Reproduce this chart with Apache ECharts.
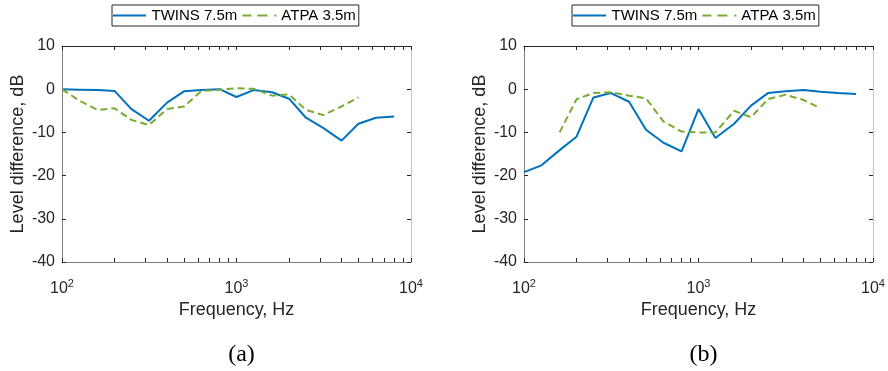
<!DOCTYPE html>
<html><head><meta charset="utf-8">
<script src="https://cdn.jsdelivr.net/npm/echarts@6/dist/echarts.min.js"></script>
<style>html,body{margin:0;padding:0;background:#fff}#c{width:888px;height:371px}</style>
</head><body><div id="c"></div>
<script>
var freqs = [100,125,160,200,250,315,400,500,630,800,1000,1250,1600,2000,2500,3150,4000,5000,6300,8000];
var twinsA = [0,-0.1,-0.2,-0.4,-4.6,-7.3,-3.1,-0.5,-0.2,0,-1.8,-0.2,-0.7,-2.2,-6.6,-9.0,-11.9,-8.0,-6.6,-6.3];
var atpaA = [0,-2.6,-4.8,-4.4,-7.1,-8.3,-4.6,-4.0,-0.4,-0.1,0.2,0.1,-1.5,-1.2,-4.8,-6.0,-4.0,-1.9,null,null];
var twinsB = [-19.2,-17.7,-14.1,-11.0,-1.9,-0.9,-2.9,-9.4,-12.4,-14.4,-4.6,-11.3,-8.0,-3.8,-0.9,-0.5,-0.2,-0.6,-0.9,-1.1];
var atpaB = [null,null,-10.0,-2.3,-0.9,-0.7,-1.5,-2.1,-7.5,-9.8,-10.0,-10.0,-5.0,-6.5,-2.3,-1.3,-2.5,-4.4,null,null];
var decadeTicks = [100,1000,10000];
var minorTicks = [200,300,400,500,600,700,800,900,2000,3000,4000,5000,6000,7000,8000,9000];
var seriesNames = ['TWINS 7.5m','ATPA 3.5m'];
var panelLabels = ['(a)','(b)'];

var FONT = 'Liberation Sans, Arial, sans-serif';
var TXT = '#262626';
function pairs(v){ return freqs.map(function(f,i){ return [f, v[i] === null ? '-' : v[i]]; }); }

var grids = [
  {left:62, top:46, width:349, height:216},
  {left:524, top:46, width:349, height:216}
];
var legendIcons = ['path://M0,0h33v2h-33z', 'path://M0,0h9v2h-9zM15,0h10v2h-10zM32,0h2v2h-2z'];
var xAxes = [], yAxes = [], series = [], legends = [], titles = [];
grids.forEach(function(g, gi){
  var xi = xAxes.length;
  xAxes.push({
    type:'log', logBase:10, min:100, max:10000, gridIndex:gi, position:'bottom',
    name:'Frequency, Hz', nameLocation:'middle', nameGap:39,
    nameTextStyle:{fontFamily:FONT, fontSize:18, color:TXT},
    axisLine:{show:true, onZero:false, lineStyle:{color:'#808080', width:1}},
    axisTick:{show:true, inside:true, length:4, customValues:decadeTicks.concat(minorTicks), lineStyle:{color:TXT, width:1}},
    axisLabel:{customValues:decadeTicks, margin:16, color:TXT, fontFamily:FONT,
      formatter:function(v){ return '{b|10}{s|' + Math.round(Math.log10(v)) + '}'; },
      rich:{b:{fontSize:16, fontFamily:FONT, color:TXT}, s:{fontSize:11, fontFamily:FONT, color:TXT, padding:[0,0,10,0]}}},
    splitLine:{show:false}
  });
  xAxes.push({
    type:'log', logBase:10, min:100, max:10000, gridIndex:gi, position:'top',
    axisLine:{show:true, onZero:false, lineStyle:{color:TXT, width:1}},
    axisTick:{show:true, inside:true, length:4, customValues:decadeTicks.concat(minorTicks), lineStyle:{color:TXT, width:1}},
    axisLabel:{show:false}, splitLine:{show:false}
  });
  var yi = yAxes.length;
  yAxes.push({
    type:'value', min:-40, max:10, interval:10, gridIndex:gi, position:'left',
    name:'Level difference, dB', nameLocation:'middle', nameGap:35, nameRotate:90,
    nameTextStyle:{fontFamily:FONT, fontSize:18, color:TXT},
    axisLine:{show:true, onZero:false, lineStyle:{color:'#808080', width:1}},
    axisTick:{show:true, inside:true, length:4, lineStyle:{color:TXT, width:1}},
    axisLabel:{fontFamily:FONT, fontSize:16, color:TXT, margin:7},
    splitLine:{show:false}
  });
  yAxes.push({
    type:'value', min:-40, max:10, interval:10, gridIndex:gi, position:'right',
    axisLine:{show:true, onZero:false, lineStyle:{color:'#c4c4c4', width:1}},
    axisTick:{show:true, inside:true, length:4, lineStyle:{color:TXT, width:1}},
    axisLabel:{show:false}, splitLine:{show:false}
  });
  var tw = gi === 0 ? twinsA : twinsB;
  var at = gi === 0 ? atpaA : atpaB;
  series.push({
    name:seriesNames[0], type:'line', xAxisIndex:xi, yAxisIndex:yi, data:pairs(tw),
    symbol:'none', showSymbol:false, lineStyle:{color:'#0072BD', width:2}, itemStyle:{color:'#0072BD'}
  });
  series.push({
    name:seriesNames[1], type:'line', xAxisIndex:xi, yAxisIndex:yi, data:pairs(at),
    symbol:'none', showSymbol:false, lineStyle:{color:'#77AC30', width:2, type:[7,4]}, itemStyle:{color:'#77AC30'}
  });
  legends.push({
    left: gi === 0 ? 112 : 572, top:5, orient:'horizontal',
    data:seriesNames.map(function(n,k){ return {name:n, icon:legendIcons[k]}; }),
    backgroundColor:'#fff', borderColor:'#262626', borderWidth:1,
    padding:[3,3,3,1], itemWidth:34, itemHeight:2, itemGap:5,
    textStyle:{fontFamily:FONT, fontSize:15, color:'#000'}, selectedMode:false
  });
  titles.push({
    text:panelLabels[gi], left: g.left + g.width/2, top:338, textAlign:'center',
    textStyle:{fontFamily:'Liberation Serif, Times New Roman, serif', fontSize:24, fontWeight:'normal', color:'#000'}
  });
});

var chart = echarts.init(document.getElementById('c'), null, {renderer:'canvas'});
chart.setOption({
  animation:false, backgroundColor:'#fff',
  title:titles, legend:legends, grid:grids, xAxis:xAxes, yAxis:yAxes, series:series
});
</script></body></html>
